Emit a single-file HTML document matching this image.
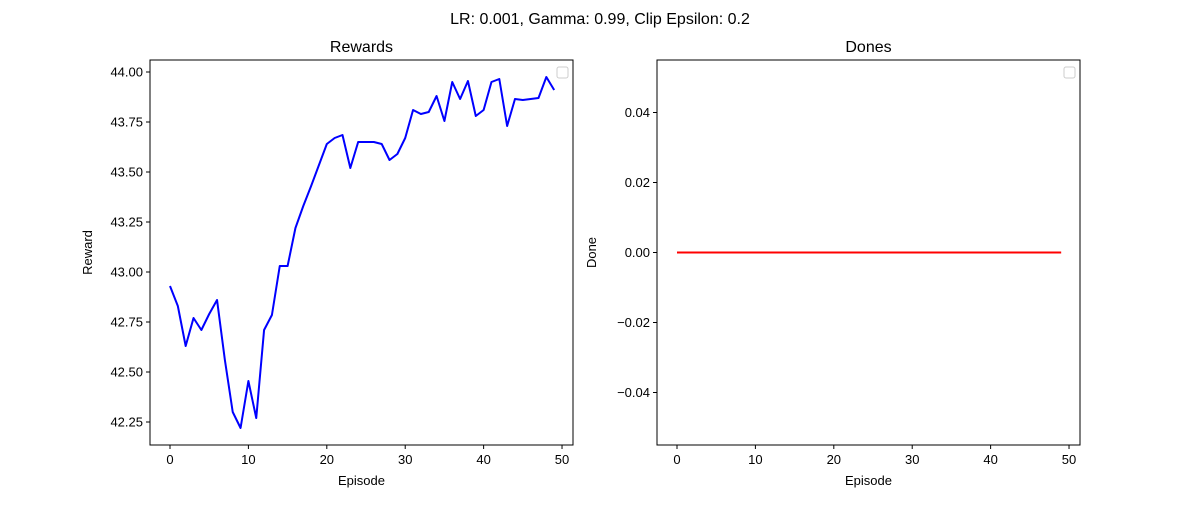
<!DOCTYPE html>
<html><head><meta charset="utf-8"><style>
body{margin:0;background:#fff}
svg{font-family:"Liberation Sans","DejaVu Sans",sans-serif}
</style></head><body>
<svg id="c" width="1200" height="500" xmlns="http://www.w3.org/2000/svg">
<text x="600" y="24" text-anchor="middle" font-size="16">LR: 0.001, Gamma: 0.99, Clip Epsilon: 0.2</text>
</svg>
<script>
const episodes=[...Array(50).keys()];
const rewards=[42.93,42.83,42.63,42.77,42.71,42.79,42.86,42.56,42.30,42.22,42.455,42.27,42.71,42.785,43.03,43.03,43.22,43.33,43.43,43.535,43.64,43.67,43.685,43.52,43.65,43.65,43.65,43.64,43.56,43.59,43.67,43.81,43.79,43.80,43.88,43.755,43.95,43.865,43.955,43.78,43.81,43.95,43.965,43.73,43.865,43.86,43.865,43.87,43.975,43.91];
const dones=episodes.map(()=>0);
const xTicks=[0,10,20,30,40,50];
const rewardTicks=[42.25,42.5,42.75,43.0,43.25,43.5,43.75,44.0];
const doneTicks=[-0.04,-0.02,0,0.02,0.04];
const NS="http://www.w3.org/2000/svg";
const svg=document.getElementById('c');
function mk(t,a,p){const e=document.createElementNS(NS,t);for(const k in a)e.setAttribute(k,a[k]);(p||svg).appendChild(e);return e;}
function panel(o){
  const g=mk('g',{});
  
  
  const X=v=>o.x0+(v-o.xmin)/(o.xmax-o.xmin)*(o.x1-o.x0);
  const Y=v=>o.y1-(v-o.ymin)/(o.ymax-o.ymin)*(o.y1-o.y0);
  const pts=episodes.map((e,i)=>X(e).toFixed(2)+','+Y(o.vals[i]).toFixed(2)).join(' ');
  const line=mk('polyline',{points:pts,fill:'none',stroke:o.color,'stroke-width':2,'stroke-linejoin':'round'},g);
  
  
  const fr=mk('rect',{x:o.x0,y:o.y0,width:o.x1-o.x0,height:o.y1-o.y0,fill:'none',stroke:'#000','stroke-width':1},g);
  
  
  xTicks.forEach(t=>{const x=X(t);
    mk('line',{x1:x,x2:x,y1:o.y1,y2:o.y1+4,stroke:'#000'},g);
    const tx=mk('text',{x:x,y:o.y1+19,'text-anchor':'middle','font-size':13},g);tx.textContent=t;
    
    });
  o.yt.forEach(t=>{const y=Y(t);
    mk('line',{x1:o.x0-4,x2:o.x0,y1:y,y2:y,stroke:'#000'},g);
    const tx=mk('text',{x:o.x0-7,y:y+4.5,'text-anchor':'end','font-size':13},g);tx.textContent=o.fmt(t);
    
    });
  const ti=mk('text',{x:(o.x0+o.x1)/2,y:o.y0-8,'text-anchor':'middle','font-size':16},g);ti.textContent=o.title;
  
  
  const xl=mk('text',{x:(o.x0+o.x1)/2,y:485,'text-anchor':'middle','font-size':13},g);xl.textContent='Episode';
  
  
  const cy=(o.y0+o.y1)/2;
  const yl=mk('text',{x:o.ylx,y:cy,'text-anchor':'middle','font-size':13,transform:`rotate(-90 ${o.ylx} ${cy})`},g);yl.textContent=o.ylabel;
  
  
  const lg=mk('rect',{x:o.x1-16,y:67,width:11,height:11,rx:2,fill:'#fff',stroke:'#ccc'},g);
  
  
}
const fmtM=t=>t.toFixed(2).replace('-','\u2212');
panel({name:'rewards-panel',lineName:'rewards-line',x0:150,x1:573,y0:60,y1:445,xmin:-2.55,xmax:51.4,ymin:42.135,ymax:44.06,vals:rewards,color:'#0000ff',yt:rewardTicks,fmt:fmtM,title:'Rewards',ylabel:'Reward',ylx:92});
panel({name:'dones-panel',lineName:'dones-line',x0:657,x1:1080,y0:60,y1:445,xmin:-2.55,xmax:51.4,ymin:-0.055,ymax:0.055,vals:dones,color:'#ff0000',yt:doneTicks,fmt:fmtM,title:'Dones',ylabel:'Done',ylx:596});
</script>
</body></html>
